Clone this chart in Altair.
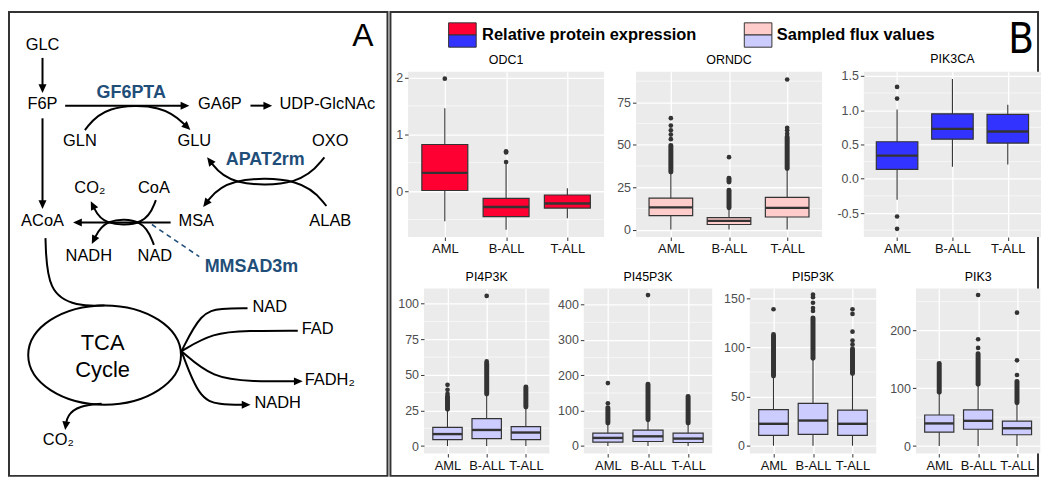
import json
import math
import altair as alt
import pandas as pd

FONT = "Liberation Sans, Arial, sans-serif"
NARROW = "Liberation Sans Narrow, DejaVu Sans Condensed, Liberation Sans, sans-serif"

# ======================= Panel B : box plot values =======================
GROUPS = ["AML", "B-ALL", "T-ALL"]
PANELS = ["ODC1", "ORNDC", "PIK3CA", "PI4P3K", "PI45P3K", "PI5P3K", "PIK3"]
PANEL_FILL = ["#FF0033", "#FFCCCC", "#3333FF", "#CCCCFF", "#CCCCFF", "#CCCCFF", "#CCCCFF"]

LOWER = {"ODC1": [-0.53, -0.68, -0.48], "ORNDC": [0, 0, 0], "PIK3CA": [-0.305, 0.174, 0.207],
         "PI4P3K": [0, 0, 0], "PI45P3K": [0, 0, 0], "PI5P3K": [0, 0, 0], "PIK3": [0, 0, 0]}
Q1 = {"ODC1": [0.01, -0.45, -0.30], "ORNDC": [8.2, 3.0, 7.4], "PIK3CA": [0.136, 0.577, 0.521],
      "PI4P3K": [4.5, 5.2, 4.5], "PI45P3K": [11, 12.8, 10], "PI5P3K": [10.5, 11.5, 10.5], "PIK3": [24.1, 29.1, 19.6]}
MEDIAN = {"ODC1": [0.32, -0.28, -0.22], "ORNDC": [13.1, 5.1, 12.8], "PIK3CA": [0.338, 0.728, 0.69],
          "PI4P3K": [8.4, 11.3, 9.5], "PI45P3K": [22.9, 27.4, 21], "PI5P3K": [22.3, 25.6, 22.3], "PIK3": [39.2, 43.7, 30.8]}
Q3 = {"ODC1": [0.82, -0.13, -0.07], "ORNDC": [18.5, 7.0, 19.0], "PIK3CA": [0.54, 0.948, 0.939],
      "PI4P3K": [13.1, 19.2, 13.6], "PI45P3K": [36.6, 44.8, 36.6], "PI5P3K": [36.8, 43, 36.1], "PIK3": [53.8, 62.7, 43.1]}
UPPER = {"ODC1": [1.46, 0.47, 0.05], "ORNDC": [33.5, 12.4, 35.6], "PIK3CA": [1.01, 1.455, 1.08],
         "PI4P3K": [25.3, 36, 27], "PI45P3K": [64, 73, 64], "PI5P3K": [70.6, 88.6, 72.9], "PIK3": [92, 106, 74]}
OUTLIERS = {
    "ODC1": [[1.98], [0.70, 0.68, 0.51], []],
    "ORNDC": [[53.3, 56, 58.5, 61.3, 65.7], [42.7], [56.5, 58.5, 60, 88.5]],
    "PIK3CA": [[1.34, 1.17, -0.55, -0.73], [], []],
    "PI4P3K": [[36.7, 39.5, 43], [59.5, 105.5], []],
    "PI45P3K": [[121, 178], [427], []],
    "PI5P3K": [[138.8], [137, 140, 145.4, 151, 153.6], [103, 107, 116, 134, 138.8]],
    "PIK3": [[], [170, 185, 261.6], [123, 148.5, 231]],
}
# runs of outliers so dense that they merge into a solid column (from, to)
OUTLIER_BANDS = {
    "ODC1": [[], [], []],
    "ORNDC": [[(34, 49.5)], [(12.9, 23.2), (28, 30.3)], [(36, 54.6)]],
    "PIK3CA": [[], [], []],
    "PI4P3K": [[(25.9, 35)], [(36.5, 58)], [(27.5, 41.5)]],
    "PI45P3K": [[(65, 108)], [(74, 175)], [(65, 140)]],
    "PI5P3K": [[(71, 113)], [(89, 130)], [(73.5, 98.5)]],
    "PIK3": [[(93, 143)], [(107, 160)], [(75, 112)]],
}
Y_BREAKS = {"ODC1": [0, 1, 2], "ORNDC": [0, 25, 50, 75], "PIK3CA": [-0.5, 0, 0.5, 1.0, 1.5],
            "PI4P3K": [0, 25, 50, 75, 100], "PI45P3K": [0, 100, 200, 300, 400],
            "PI5P3K": [0, 50, 100, 150], "PIK3": [0, 100, 200]}
Y_MINOR = {"ODC1": [-0.5, 0.5, 1.5], "ORNDC": [12.5, 37.5, 62.5, 87.5],
           "PIK3CA": [-0.75, -0.25, 0.25, 0.75, 1.25], "PI4P3K": [12.5, 37.5, 62.5, 87.5],
           "PI45P3K": [50, 150, 250, 350], "PI5P3K": [25, 75, 125], "PIK3": [50, 150, 250]}
Y_DOMAIN = {"ODC1": [-0.81, 2.10], "ORNDC": [-4.4, 93], "PIK3CA": [-0.85, 1.56],
            "PI4P3K": [-5.3, 110.8], "PI45P3K": [-21.4, 446], "PI5P3K": [-8, 160], "PIK3": [-13, 273]}
Y_FORMAT = {"ODC1": "d", "ORNDC": "d", "PIK3CA": ".1f", "PI4P3K": "d", "PI45P3K": "d", "PI5P3K": "d", "PIK3": "d"}

LEGEND_LABELS = ["Relative protein expression", "Sampled flux values"]
LEGEND_TOP = ["#FF0033", "#FFCCCC"]
LEGEND_BOTTOM = ["#3333FF", "#CCCCFF"]

# ======================= Panel A : pathway diagram =======================
METABOLITES = ["GLC", "F6P", "GA6P", "UDP-GlcNAc", "GLN", "GLU", "OXO", "CO₂", "CoA",
               "ACoA", "MSA", "ALAB", "NADH", "NAD", "CO₂"]
MET_X = [37, 37, 217, 326, 75, 191, 329, 85, 150, 37, 193, 329, 84, 151, 53]
MET_Y = [39, 100, 100, 100, 138, 138, 138, 186, 186, 220, 220, 220, 256, 256, 445]
COFACTORS = ["NAD", "FAD", "FADH₂", "NADH"]          # left-anchored, right of the cycle
COF_X = [250, 300, 303, 252]
COF_Y = [308, 331, 383, 407]
ENZYMES = ["GF6PTA", "APAT2rm", "MMSAD3m"]
ENZ_X = [127, 263, 249]
ENZ_Y = [89, 157, 267]
CYCLE_TEXT = ["TCA", "Cycle"]
CYCLE_X = [98, 98]
CYCLE_Y = [345, 373]
CYCLE_CENTER = (100, 356)
PANEL_LETTERS = ["A", "B"]

# reaction edges: control points and whether they end in an arrowhead
EDGES = [
    ([(37, 51), (37, 87)], True),                                   # GLC -> F6P
    ([(37, 113), (37, 206)], True),                                 # F6P -> ACoA
    ([(60, 100), (186, 100)], True),                                # F6P -> GA6P
    ([(248, 100), (270, 100)], True),                               # GA6P -> UDP-GlcNAc
    ([(80, 125), (100, 100), (160, 99), (187, 125)], True),         # GLN -> GLU
    ([(323, 153), (300, 182), (226, 182), (204, 153)], True),       # OXO -> GLU
    ([(325, 203), (302, 174), (223, 174), (200, 204)], True),       # ALAB -> MSA
    ([(167, 220), (68, 220)], True),                                # MSA -> ACoA
    ([(152, 197), (142, 223), (98, 223), (86, 198)], True),         # CoA -> CO2
    ([(150, 243), (140, 216), (100, 216), (87, 242)], True),        # NAD -> NADH
    ([(40, 236), (42, 292), (72, 306), (100, 305)], False),         # ACoA -> TCA
    ([(178, 352), (198, 312), (218, 308), (245, 308)], False),      # NAD in
    ([(178, 352), (210, 333), (245, 331), (296, 331)], False),      # FAD in
    ([(178, 352), (210, 380), (250, 383), (301, 383)], True),       # FADH2 out
    ([(178, 352), (196, 401), (216, 407), (248, 407)], True),       # NADH out
    ([(97, 406), (74, 408), (62, 418), (60, 433)], True),           # CO2 out
]
DASHED_EDGES = [[(148, 222), (196, 255)]]

# ======================= layout / style =======================
SX = 1034 / 1044            # reference px -> chart px
A_W, H = 381, 466
X_DOMAIN_A = [3, 3 + A_W / SX]
Y_DOMAIN_A = [4, 480]
FRAMES = [(3, 4, 387, 480), (390, 4, 1047, 480)]
LETTER_POS = [(362, 29), (1030, 33)]
LETTER_SIZE = [32, 42]
LETTER_FONT = [FONT, NARROW]
SWATCH_X = [449, 749]
SWATCH_Y = (15, 27.5, 40)
SWATCH_W = 28
LEGEND_TEXT_X = [483, 782]
LEGEND_TEXT_Y = 28
TEXT_DY = -1.5

BLUE = "#1f4e79"
EDGE = "#333333"
PANEL_BG = "#EBEBEB"
TOP_W = [197, 187, 178]
BOT_W = [126, 129, 127, 125]
TOP_GAPS = [0, 11, 13]
BOT_GAPS = [0, 6.6, 10.4, 12.3]
ROW_LEAD = [1, 5]           # invisible lead-in widths that set each row's left offset
PANEL_H = 166
ROW_GAP = 14.6
SPACER_H = 40
PANEL_B_GAP = 4
BOX_HALF = 0.375

ARROW_SHAPE = "M 0 0 L 0.5 1.1 L -0.5 1.1 Z"
ARROW_SIZE = 256
RY = 0.65
K = 0.5523
ELLIPSE_SHAPE = (f"M -1 0 C -1 {-K*RY:.3f} {-K:.3f} {-RY} 0 {-RY} "
                 f"C {K:.3f} {-RY} 1 {-K*RY:.3f} 1 0 "
                 f"C 1 {K*RY:.3f} {K:.3f} {RY} 0 {RY} "
                 f"C {-K:.3f} {RY} -1 {K*RY:.3f} -1 0 Z")
ELLIPSE_SIZE = (2 * 77.5 * SX) ** 2


# ======================= Panel A chart =======================
xsA = alt.Scale(domain=X_DOMAIN_A, nice=False, zero=False)
ysA = alt.Scale(domain=Y_DOMAIN_A, nice=False, zero=False, reverse=True)


def XA(f):
    return alt.X(f, type="quantitative", scale=xsA, axis=None)


def YA(f):
    return alt.Y(f, type="quantitative", scale=ysA, axis=None)


line_rows, head_rows = [], []
for pid, (pts, arrow) in enumerate(EDGES):
    pts = list(pts)
    if arrow:
        (xa, ya), (xb, yb) = pts[-2], pts[-1]
        dx, dy = xb - xa, yb - ya
        ln = math.hypot(dx, dy)
        ang = math.degrees(math.atan2(dx, -dy)) % 360
        head_rows.append({"x": xb, "y": yb, "ang": ang})
        pts[-1] = (xb - dx / ln * 5, yb - dy / ln * 5)
    for s, (x, y) in enumerate(pts):
        line_rows.append({"path": pid, "seq": s, "x": x, "y": y})
lines_df = pd.DataFrame(line_rows)
heads_df = pd.DataFrame(head_rows)
dash_df = pd.DataFrame([{"path": i, "seq": s, "x": x, "y": y}
                        for i, pts in enumerate(DASHED_EDGES) for s, (x, y) in enumerate(pts)])

frames_df = pd.DataFrame([{"x0": a, "y0": b, "x1": c, "y1": d} for a, b, c, d in FRAMES])
swatch_df = pd.DataFrame(
    [{"x0": SWATCH_X[i], "x1": SWATCH_X[i] + SWATCH_W, "y0": SWATCH_Y[0], "y1": SWATCH_Y[1], "col": LEGEND_TOP[i]}
     for i in range(2)] +
    [{"x0": SWATCH_X[i], "x1": SWATCH_X[i] + SWATCH_W, "y0": SWATCH_Y[1], "y1": SWATCH_Y[2], "col": LEGEND_BOTTOM[i]}
     for i in range(2)])
legend_text_df = pd.DataFrame({"t": LEGEND_LABELS, "x": LEGEND_TEXT_X, "y": [LEGEND_TEXT_Y] * 2})
met_df = pd.DataFrame({"t": METABOLITES, "x": MET_X, "y": MET_Y})
cof_df = pd.DataFrame({"t": COFACTORS, "x": COF_X, "y": COF_Y})
enz_df = pd.DataFrame({"t": ENZYMES, "x": ENZ_X, "y": ENZ_Y})
cyc_df = pd.DataFrame({"t": CYCLE_TEXT, "x": CYCLE_X, "y": CYCLE_Y})
ell_df = pd.DataFrame({"x": [CYCLE_CENTER[0]], "y": [CYCLE_CENTER[1]]})

letter_layers = [
    alt.Chart(pd.DataFrame({"t": [PANEL_LETTERS[i]], "x": [LETTER_POS[i][0]], "y": [LETTER_POS[i][1]]}))
    .mark_text(font=LETTER_FONT[i], fontSize=LETTER_SIZE[i], color="black", baseline="middle")
    .encode(x=XA("x"), y=YA("y"), text="t:N")
    for i in range(len(PANEL_LETTERS))
]

panel_a = alt.layer(
    alt.Chart(frames_df).mark_rect(fillOpacity=0, stroke="#333333", strokeWidth=2).encode(
        x=XA("x0"), x2="x1", y=YA("y0"), y2="y1"),
    alt.Chart(swatch_df).mark_rect(stroke="#333333", strokeWidth=1).encode(
        x=XA("x0"), x2="x1", y=YA("y0"), y2="y1", color=alt.Color("col:N", scale=None)),
    alt.Chart(legend_text_df).mark_text(font=FONT, fontSize=16.5, fontWeight="bold", align="left",
                                        baseline="middle", color="black").encode(
        x=XA("x"), y=YA("y"), text="t:N"),
    alt.Chart(lines_df).mark_line(color="black", strokeWidth=2, interpolate="basis").encode(
        x=XA("x"), y=YA("y"), detail="path:N", order="seq:Q"),
    alt.Chart(dash_df).mark_line(color=BLUE, strokeWidth=1.6, strokeDash=[5, 4]).encode(
        x=XA("x"), y=YA("y"), detail="path:N", order="seq:Q"),
    alt.Chart(heads_df).mark_point(shape=ARROW_SHAPE, filled=True, color="black", opacity=1,
                                   size=ARROW_SIZE, strokeWidth=0).encode(
        x=XA("x"), y=YA("y"), angle=alt.Angle("ang:Q", scale=None)),
    alt.Chart(ell_df).mark_point(shape=ELLIPSE_SHAPE, filled=False, color="black", opacity=1,
                                 size=ELLIPSE_SIZE, strokeWidth=2).encode(x=XA("x"), y=YA("y")),
    alt.Chart(met_df).mark_text(font=FONT, fontSize=16.5, color="black", baseline="middle", dy=TEXT_DY).encode(
        x=XA("x"), y=YA("y"), text="t:N"),
    alt.Chart(cof_df).mark_text(font=FONT, fontSize=16.5, color="black", align="left", baseline="middle",
                                dy=TEXT_DY).encode(
        x=XA("x"), y=YA("y"), text="t:N"),
    alt.Chart(enz_df).mark_text(font=FONT, fontSize=18, fontWeight="bold", color=BLUE, baseline="middle",
                                dy=TEXT_DY).encode(
        x=XA("x"), y=YA("y"), text="t:N"),
    alt.Chart(cyc_df).mark_text(font=FONT, fontSize=22, color="black", baseline="middle", dy=TEXT_DY).encode(
        x=XA("x"), y=YA("y"), text="t:N"),
    *letter_layers,
).properties(width=A_W, height=H)


# ======================= Panel B charts =======================
def box_panel(idx, width):
    name = PANELS[idx]
    pos = list(range(1, len(GROUPS) + 1))
    stats = pd.DataFrame({
        "pos": pos,
        "x0": [p - BOX_HALF for p in pos],
        "x1": [p + BOX_HALF for p in pos],
        "lo": LOWER[name], "q1": Q1[name], "med": MEDIAN[name], "q3": Q3[name], "hi": UPPER[name],
    })
    pts = pd.DataFrame([{"pos": k + 1, "v": v} for k, vals in enumerate(OUTLIERS[name]) for v in vals])
    bands = pd.DataFrame([{"pos": k + 1, "a": a, "b": b}
                          for k, bb in enumerate(OUTLIER_BANDS[name]) for a, b in bb])
    minor = pd.DataFrame({"m": Y_MINOR[name]})

    xs = alt.Scale(domain=[0.4, len(GROUPS) + 0.6], nice=False, zero=False)
    ys = alt.Scale(domain=Y_DOMAIN[name], nice=False, zero=False)
    xaxis = alt.Axis(values=pos, labelExpr=json.dumps(GROUPS) + "[datum.value - 1]", title=None,
                     grid=True, gridColor="white", gridWidth=1.3, domain=False,
                     tickColor=EDGE, tickSize=3.5, tickWidth=1, labelFont=FONT, labelFontSize=13,
                     labelColor="#111111", labelPadding=2)
    fmt = Y_FORMAT[name]
    yaxis = alt.Axis(values=Y_BREAKS[name],
                     labelExpr=f"replace(format(datum.value, '{fmt}'), '\u2212', '-')",
                     title=None, grid=True, gridColor="white", gridWidth=1.3, domain=False,
                     tickColor=EDGE, tickSize=3.5, tickWidth=1, labelFont=FONT, labelFontSize=12.5,
                     labelColor="#4D4D4D", labelPadding=2)

    def X(f):
        return alt.X(f, type="quantitative", scale=xs, axis=xaxis)

    def Y(f):
        return alt.Y(f, type="quantitative", scale=ys, axis=yaxis)

    layers = [
        alt.Chart(minor).mark_rule(color="white", strokeWidth=0.6).encode(y=Y("m")),
        alt.Chart(stats).mark_rule(color=EDGE, strokeWidth=1.1).encode(x=X("pos"), y=Y("lo"), y2="hi"),
        alt.Chart(stats).mark_rect(fill=PANEL_FILL[idx], stroke=EDGE, strokeWidth=1.2).encode(
            x=X("x0"), x2="x1", y=Y("q1"), y2="q3"),
        alt.Chart(stats).mark_rule(color=EDGE, strokeWidth=2.4).encode(x=X("x0"), x2="x1", y=Y("med")),
    ]
    if len(bands):
        layers.append(alt.Chart(bands).mark_rule(color=EDGE, strokeWidth=5, strokeCap="round").encode(
            x=X("pos"), y=Y("a"), y2="b"))
    if len(pts):
        layers.append(alt.Chart(pts).mark_circle(color=EDGE, size=22, opacity=1).encode(
            x=X("pos"), y=Y("v")))
    return alt.layer(*layers).properties(
        width=width, height=PANEL_H,
        title=alt.TitleParams(text=name, font=FONT, fontSize=12.5, fontWeight="normal",
                              color="black", offset=5, anchor="middle"),
        view=alt.ViewBackground(fill=PANEL_BG, stroke=None),
    )


def spacer(width, height):
    return alt.Chart(pd.DataFrame({"z": [0]})).mark_point(opacity=0).encode(
        x=alt.value(0), y=alt.value(0)).properties(width=width, height=height)


def chain(charts, gaps):
    c = charts[0]
    for ch, g in zip(charts[1:], gaps):
        c = alt.hconcat(c, ch, spacing=g)
    return c


row1 = chain([spacer(ROW_LEAD[0], 1)] + [box_panel(i, w) for i, w in zip(range(0, 3), TOP_W)], TOP_GAPS)
row2 = chain([spacer(ROW_LEAD[1], 1)] + [box_panel(i, w) for i, w in zip(range(3, 7), BOT_W)], BOT_GAPS)
panel_b = alt.vconcat(spacer(1, SPACER_H), alt.vconcat(row1, row2, spacing=ROW_GAP), spacing=0)

chart = alt.hconcat(panel_a, panel_b, spacing=PANEL_B_GAP, bounds="flush").properties(
    padding=0).configure_view(stroke=None)

chart.save("out.html", embed_options={"renderer": "svg", "actions": False})
